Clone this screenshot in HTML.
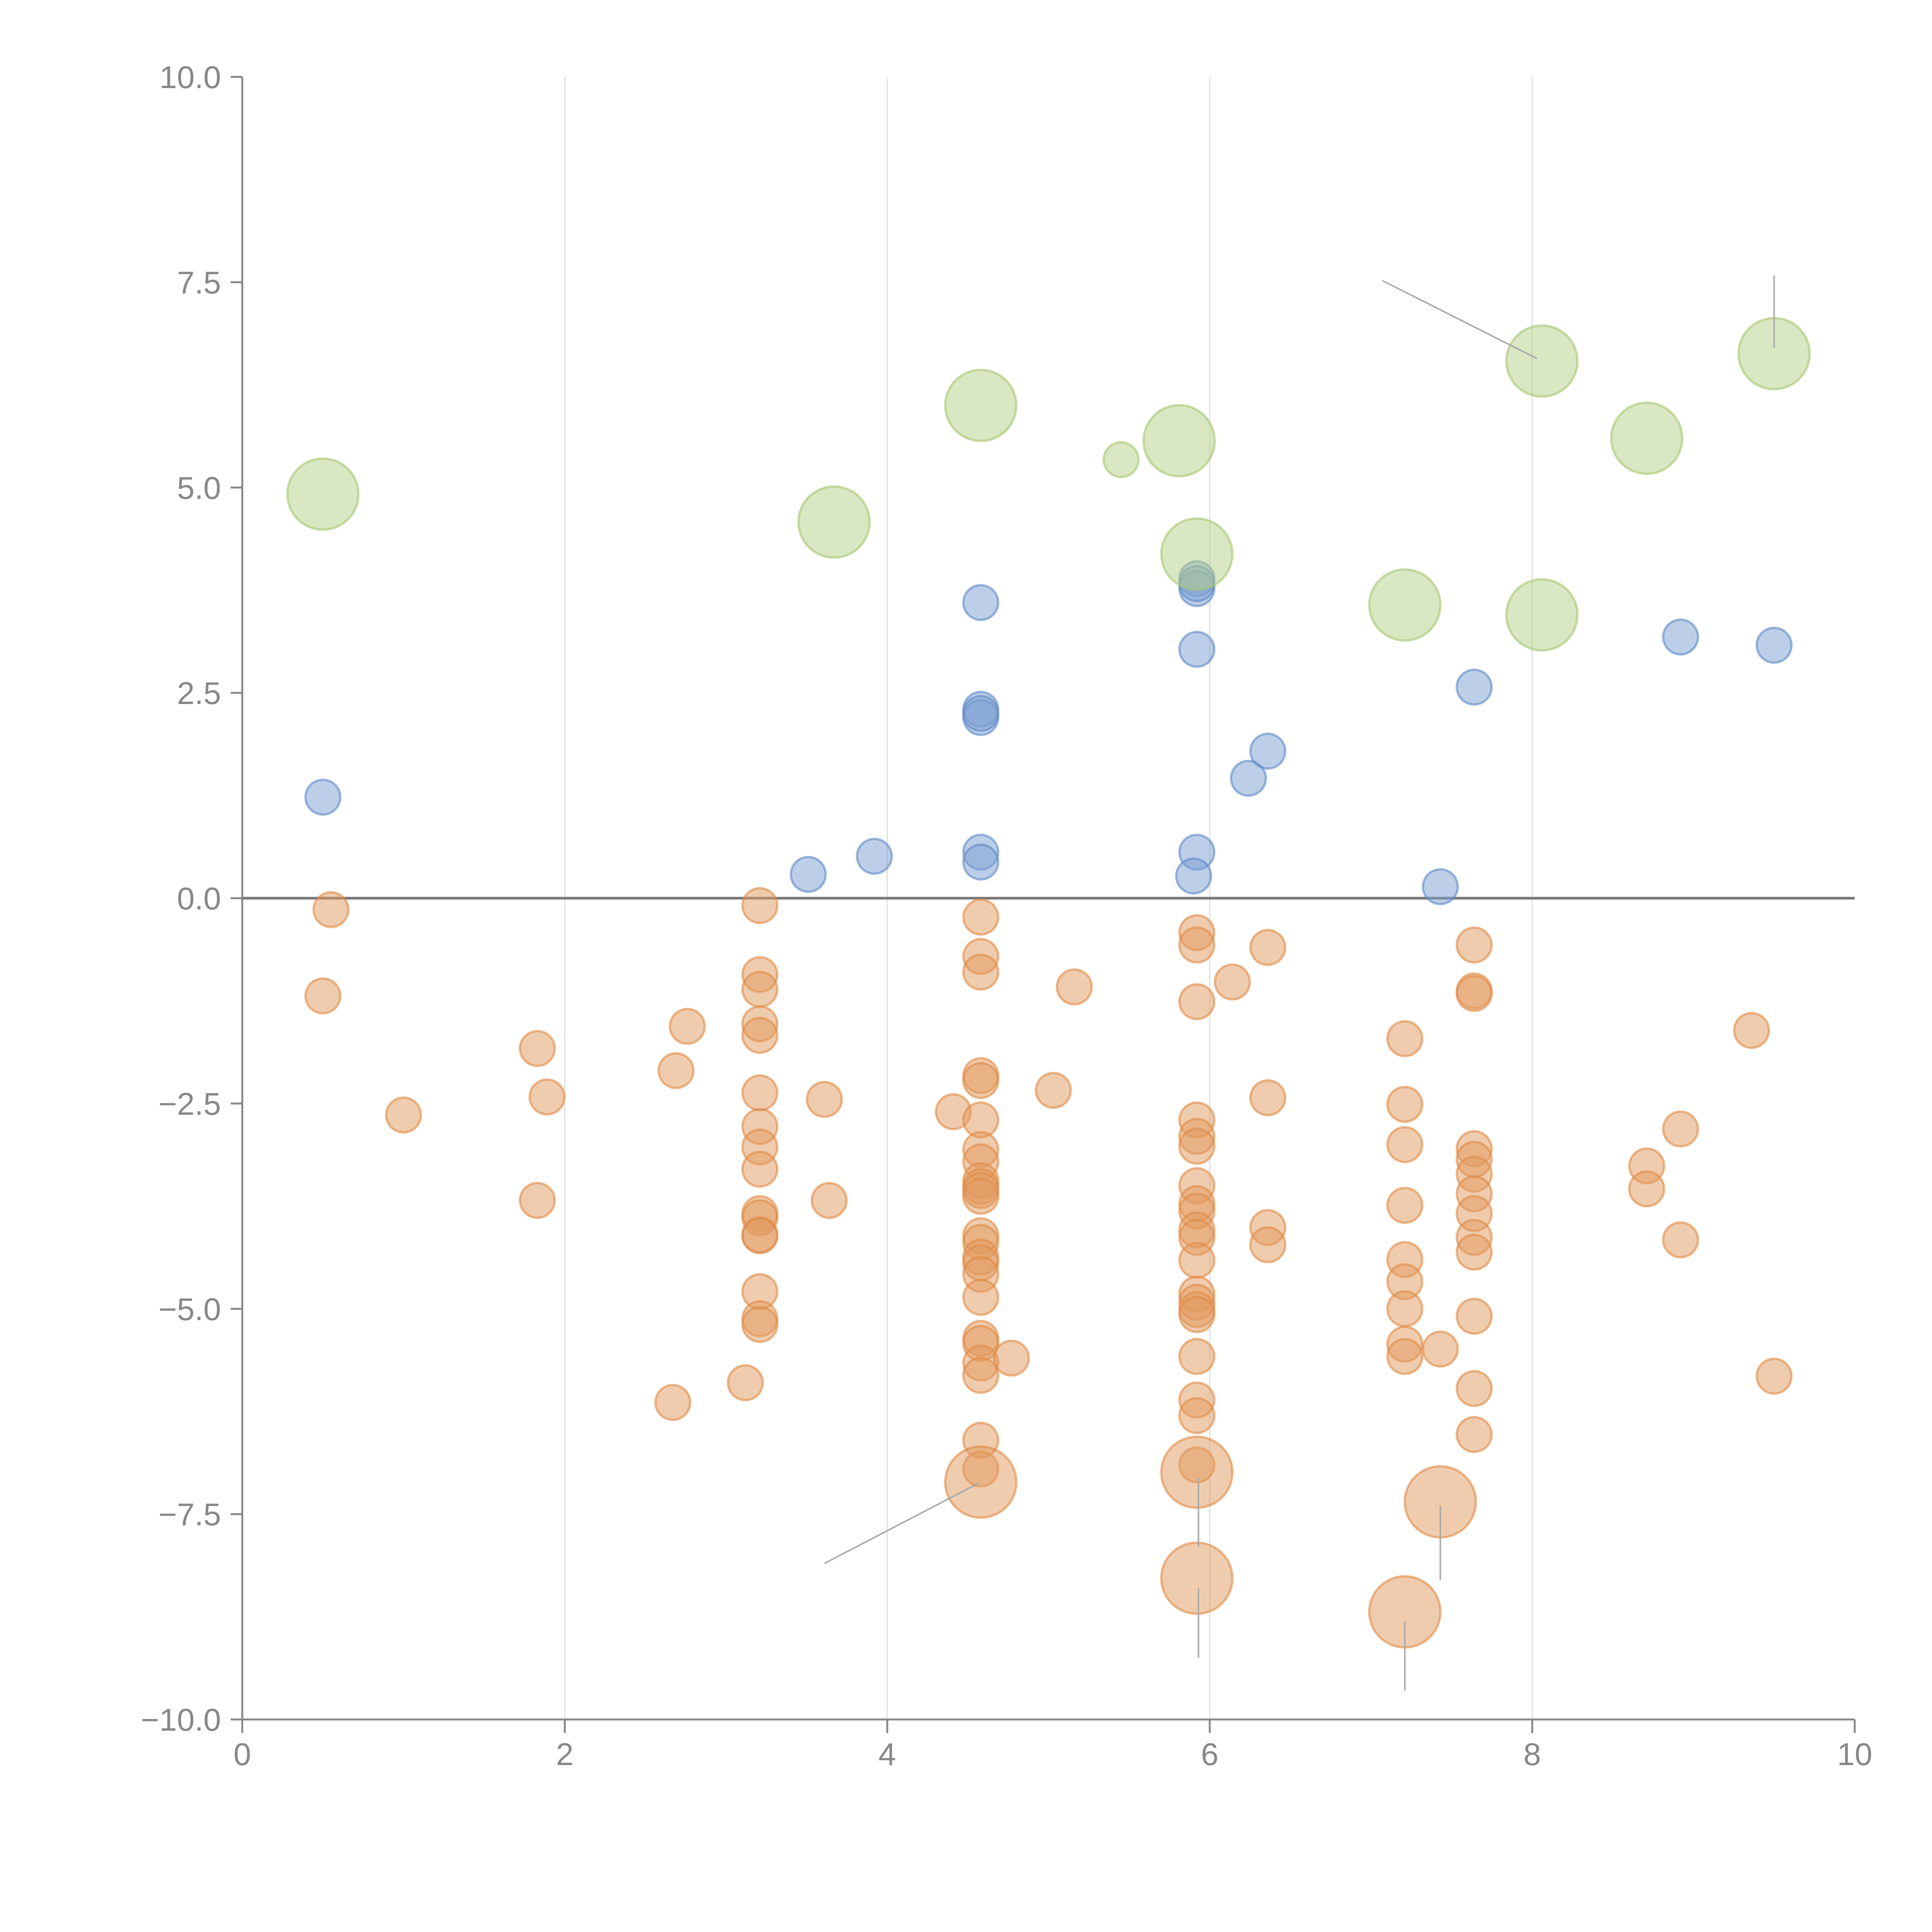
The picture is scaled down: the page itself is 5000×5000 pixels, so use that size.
<!DOCTYPE html>
<html><head><meta charset="utf-8">
<style>
html,body{margin:0;padding:0;background:#fff;}
svg{display:block;}
text{font-family:"Liberation Sans",Arial,sans-serif;fill:#888;}
</style></head>
<body>
<svg id="chart" width="5000" height="5000" viewBox="0 0 5000 5000" xmlns="http://www.w3.org/2000/svg">
<g id="grid"></g>
<g id="axes"></g>
<g id="marks"></g>
<g id="leaders"></g>
</svg>
<script>
// ---- data ----
const xTicks = [0, 2, 4, 6, 8, 10];
const yTicks = [-10, -7.5, -5, -2.5, 0, 2.5, 5, 7.5, 10];
const yTickLabels = ["\u221210.0", "\u22127.5", "\u22125.0", "\u22122.5", "0.0", "2.5", "5.0", "7.5", "10.0"];
const xTickLabels = ["0", "2", "4", "6", "8", "10"];

const greenX = [0.5, 3.67, 4.58, 5.45, 5.81, 5.92, 7.21, 8.06, 8.06, 8.71, 9.5];
const greenY = [4.92, 4.58, 6.0, 5.34, 5.57, 4.19, 3.57, 6.54, 3.45, 5.6, 6.63];
const greenS = [2, 2, 2, 1, 2, 2, 2, 2, 2, 2, 2];

const blueX = [0.5, 3.51, 3.92, 4.58, 4.58, 4.58, 4.58, 4.58, 4.58, 5.92, 5.92, 5.92, 5.92, 5.92, 5.9, 6.24, 6.36, 7.43, 7.64, 8.92, 9.5];
const blueY = [1.23, 0.29, 0.51, 3.6, 2.3, 2.2, 2.25, 0.56, 0.44, 3.89, 3.77, 3.83, 3.03, 0.56, 0.27, 1.46, 1.79, 0.14, 2.57, 3.18, 3.08];

const orangeX = [0.55, 0.5, 1.0, 1.83, 1.89, 1.83, 2.76, 2.69, 2.67, 3.12,
  3.21,3.21,3.21,3.21,3.21,3.21,3.21,3.21,3.21,3.21,3.21,3.21,3.21,3.21,3.21,3.21,
  3.61, 3.64, 4.41,
  4.58,4.58,4.58,4.58,4.58,4.58,4.58,4.58,4.58,4.58,4.58,4.58,4.58,4.58,4.58,4.58,4.58,4.58,4.58,4.58,4.58,4.58,4.58,4.58,
  4.77, 5.03, 5.16,
  5.92,5.92,5.92,5.92,5.92,5.92,5.92,5.92,5.92,5.92,5.92,5.92,5.92,5.92,5.92,5.92,5.92,5.92,5.92,5.92,
  6.14, 6.36,6.36,6.36,6.36,
  7.21,7.21,7.21,7.21,7.21,7.21,7.21,7.21,7.21,
  7.43,
  7.64,7.64,7.64,7.64,7.64,7.64,7.64,7.64,7.64,7.64,7.64,7.64,7.64,
  8.71,8.71, 8.92,8.92, 9.36, 9.5,
  4.58, 5.92, 5.92, 7.21, 7.43];
const orangeY = [-0.14, -1.19, -2.64, -1.83, -2.42, -3.68, -1.56, -2.1, -6.14, -5.9,
  -0.09,-0.93,-1.11,-1.53,-1.67,-2.37,-2.78,-3.03,-3.3,-3.84,-3.89,-4.1,-4.11,-4.79,-5.12,-5.19,
  -2.45, -3.68, -2.6,
  -0.23,-0.71,-0.9,-2.16,-2.22,-2.7,-3.06,-3.21,-3.44,-3.51,-3.56,-3.63,-4.11,-4.19,-4.37,-4.44,-4.58,-4.86,-5.36,-5.42,-5.66,-5.81,-6.6,-6.95,
  -5.6, -2.34, -1.08,
  -0.42,-0.57,-1.26,-2.7,-2.9,-3.02,-3.5,-3.72,-3.81,-4.04,-4.13,-4.41,-4.82,-4.92,-5.01,-5.07,-5.58,-6.11,-6.3,-6.9,
  -1.02, -0.6,-2.43,-4.01,-4.22,
  -1.71,-2.51,-3.0,-3.74,-4.4,-4.67,-5.0,-5.43,-5.58,
  -5.49,
  -0.57,-1.13,-1.16,-3.05,-3.18,-3.36,-3.6,-3.84,-4.13,-4.31,-5.09,-5.97,-6.53,
  -3.26,-3.54, -2.81,-4.16, -1.61, -5.82,
  -7.11, -6.99, -8.28, -8.69, -7.35];
const orangeS = orangeX.map((_, i) => i >= orangeX.length - 5 ? 2 : 1);

const leaderX1 = [7.07, 9.5, 3.61, 5.93, 5.93, 7.21, 7.43];
const leaderY1 = [7.52, 7.58, -8.1, -7.06, -8.4, -8.8, -7.4];
const leaderX2 = [8.03, 9.5, 4.57, 5.93, 5.93, 7.21, 7.43];
const leaderY2 = [6.57, 6.7, -7.12, -7.9, -9.25, -9.65, -8.3];

// ---- scales ----
const X0 = 627, X1 = 4800, Y0 = 4450, Y1 = 199;
const sx = v => X0 + (v - 0) / 10 * (X1 - X0);
const sy = v => Y0 - (v + 10) / 20 * (Y0 - Y1);
const sr = s => s === 2 ? 92 : 45;
const NS = "http://www.w3.org/2000/svg";
function mk(tag, attrs, parent) {
  const e = document.createElementNS(NS, tag);
  for (const k in attrs) e.setAttribute(k, attrs[k]);
  parent.appendChild(e);
  return e;
}
const grid = document.getElementById('grid');
const axes = document.getElementById('axes');
const marks = document.getElementById('marks');
const leaders = document.getElementById('leaders');

xTicks.forEach(t => {
  if (t === 0 || t === 10) return;
  const l = mk('line', {x1: sx(t), x2: sx(t), y1: Y1, y2: Y0, stroke: '#dedede', 'stroke-width': 3}, grid);
  
  
});

let a = mk('line', {x1: X0, x2: X0, y1: Y1, y2: Y0, stroke: '#888', 'stroke-width': 5}, axes);


a = mk('line', {x1: X0, x2: X1, y1: Y0, y2: Y0, stroke: '#888', 'stroke-width': 5}, axes);


yTicks.forEach((t, i) => {
  const tk = mk('line', {x1: X0 - 30, x2: X0, y1: sy(t), y2: sy(t), stroke: '#888', 'stroke-width': 5}, axes);
  
  
  const tx = mk('text', {x: X0 - 55, y: sy(t) + 29, 'text-anchor': 'end', 'font-size': 82}, axes);
  tx.textContent = yTickLabels[i];
  
  
});
xTicks.forEach((t, i) => {
  const tk = mk('line', {x1: sx(t), x2: sx(t), y1: Y0, y2: Y0 + 35, stroke: '#888', 'stroke-width': 5}, axes);
  
  
  const tx = mk('text', {x: sx(t), y: 4568, 'text-anchor': 'middle', 'font-size': 82}, axes);
  tx.textContent = xTickLabels[i];
  
  
});
const z = mk('line', {x1: X0, x2: X1, y1: sy(0), y2: sy(0), stroke: '#7a7a7a', 'stroke-width': 7}, axes);



function series(xs, ys, ss, fill, stroke, name) {
  xs.forEach((x, i) => {
    const c = mk('circle', {cx: sx(x), cy: sy(ys[i]), r: sr(ss ? ss[i] : 1), fill: fill, 'fill-opacity': 0.5, stroke: stroke, 'stroke-opacity': 0.6, 'stroke-width': 6}, marks);
    
    
  });
}
series(orangeX, orangeY, orangeS, '#e29a5e', '#e08a45', 'orange-bubble');
series(blueX, blueY, null, '#7b9fd2', '#5f88c6', 'blue-bubble');
series(greenX, greenY, greenS, '#b4cf85', '#a6c672', 'green-bubble');

leaderX1.forEach((x, i) => {
  const l = mk('line', {x1: sx(x), y1: sy(leaderY1[i]), x2: sx(leaderX2[i]), y2: sy(leaderY2[i]), stroke: '#aaa', 'stroke-width': 4}, leaders);
  
  
});
</script>
</body></html>
